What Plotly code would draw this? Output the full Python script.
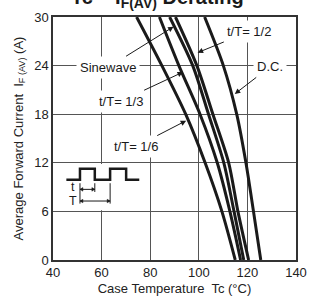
import plotly.graph_objects as go

# Data
current = [0, 6, 12, 18, 24, 30]                      # Average forward current IF(AV) (A)
tc_1_6 = [115.0, 109.5, 102.6, 94.6, 84.8, 74.4]       # t/T = 1/6
tc_1_3 = [117.2, 112.8, 107.6, 100.5, 91.8, 83.8]      # t/T = 1/3
tc_sine = [118.5, 114.5, 110.3, 104.0, 97.5, 88.0]     # Sinewave
tc_1_2 = [120.5, 116.1, 112.3, 105.8, 99.2, 90.4]      # t/T = 1/2
tc_dc = [125.5, 122.5, 119.4, 115.6, 110.1, 102.4]     # D.C.

x_ticks = [40, 60, 80, 100, 120, 140]
y_ticks = [0, 6, 12, 18, 24, 30]

FONT = "Liberation Sans, Arial, Helvetica, sans-serif"
INK = "#1a1a1a"
GRID = "#555555"

fig = go.Figure()
for name, tc in [("t/T=1/6", tc_1_6), ("t/T=1/3", tc_1_3), ("Sinewave", tc_sine),
                 ("t/T=1/2", tc_1_2), ("D.C.", tc_dc)]:
    fig.add_trace(go.Scatter(x=tc, y=current, mode="lines", name=name,
                             line=dict(color=INK, width=3, shape="spline", smoothing=0.8),
                             showlegend=False, hoverinfo="skip"))

ann = []
def label(text, tx, ty, px, py):
    ann.append(dict(text=text, x=px, y=py, ax=tx, ay=ty, xref="x", yref="y",
                    axref="x", ayref="y", showarrow=True, arrowhead=2, arrowsize=1.1,
                    arrowwidth=1, arrowcolor=INK, bgcolor="white", borderpad=3,
                    font=dict(family=FONT, size=13, color=INK)))

label("Sinewave", 62.8, 23.8, 89.6, 28.8)
label("t/T= 1/2", 120.8, 28.2, 99.5, 25.6)
label("D.C.", 129.5, 23.9, 114.8, 20.5)
label("t/T= 1/3", 67.8, 19.6, 93.5, 23.2)
label("t/T= 1/6", 74.1, 14.0, 94.8, 17.2)

# Inset pulse diagram
shapes = [dict(type="rect", xref="x", yref="y", x0=43.6, x1=78.5, y0=6.15, y1=11.85,
               fillcolor="white", line=dict(width=0), layer="above")]
pulse = "M45.5,9.92 L51.1,9.92 L51.1,11.28 L57.2,11.28 L57.2,9.92 L63.5,9.92 L63.5,11.28 L70.1,11.28 L70.1,9.92 L75.5,9.92"
shapes.append(dict(type="path", xref="x", yref="y", path=pulse,
                   line=dict(color=INK, width=2.5), layer="above"))
for (xx, y0, y1) in [(51.1, 6.96, 9.48), (57.2, 8.4, 9.48), (63.5, 6.96, 9.48)]:
    shapes.append(dict(type="line", xref="x", yref="y", x0=xx, x1=xx, y0=y0, y1=y1,
                       line=dict(color=INK, width=1), layer="above"))
# dimension arrows t and T (line + small triangular heads)
for (xa, xb, yy) in [(51.1, 57.2, 8.72), (51.1, 63.5, 7.28)]:
    shapes.append(dict(type="line", xref="x", yref="y", x0=xa, x1=xb, y0=yy, y1=yy,
                       line=dict(color=INK, width=1), layer="above"))
    hx, hy = 1.2, 0.22
    shapes.append(dict(type="path", xref="x", yref="y",
                       path=f"M{xa},{yy} L{xa+hx},{yy+hy} L{xa+hx},{yy-hy} Z",
                       fillcolor=INK, line=dict(color=INK, width=0.5), layer="above"))
    shapes.append(dict(type="path", xref="x", yref="y",
                       path=f"M{xb},{yy} L{xb-hx},{yy+hy} L{xb-hx},{yy-hy} Z",
                       fillcolor=INK, line=dict(color=INK, width=0.5), layer="above"))
ann.append(dict(text="t", x=48.3, y=9.05, xref="x", yref="y", showarrow=False,
                font=dict(family=FONT, size=12.5, color=INK)))
ann.append(dict(text="T", x=48.3, y=7.25, xref="x", yref="y", showarrow=False,
                font=dict(family=FONT, size=12.5, color=INK)))

# Title (cut off at the top of the image)
ann.append(dict(text="<b>Tc – I<sub>F(AV)</sub> Derating</b>", x=0.43, y=1.016,
                xref="paper", yref="paper", xanchor="center", yanchor="bottom",
                showarrow=False, font=dict(family=FONT, size=20, color=INK)))

fig.update_layout(
    width=317, height=304,
    margin=dict(l=53, r=14, t=10, b=44),
    paper_bgcolor="white", plot_bgcolor="white",
    font=dict(family=FONT, size=13, color="#222222"),
    annotations=ann, shapes=shapes,
    xaxis=dict(range=[40, 140], tickvals=x_ticks, ticks="", showgrid=True,
               gridcolor=GRID, gridwidth=1, showline=True, linecolor="#333333",
               linewidth=1.5, mirror=True, zeroline=False,
               title=dict(text="Case Temperature  Tc (°C)", standoff=5,
                          font=dict(size=13))),
    yaxis=dict(range=[0, 30], tickvals=y_ticks, ticks="", showgrid=True,
               gridcolor=GRID, gridwidth=1, showline=True, linecolor="#333333",
               linewidth=1.5, mirror=True, zeroline=False,
               title=dict(text="Average Forward Current  I<sub>F (AV)</sub> (A)",
                          standoff=8, font=dict(size=13))),
)

fig.write_html("out.html", config={"displayModeBar": False},
               post_script="document.body.style.margin='0';")
